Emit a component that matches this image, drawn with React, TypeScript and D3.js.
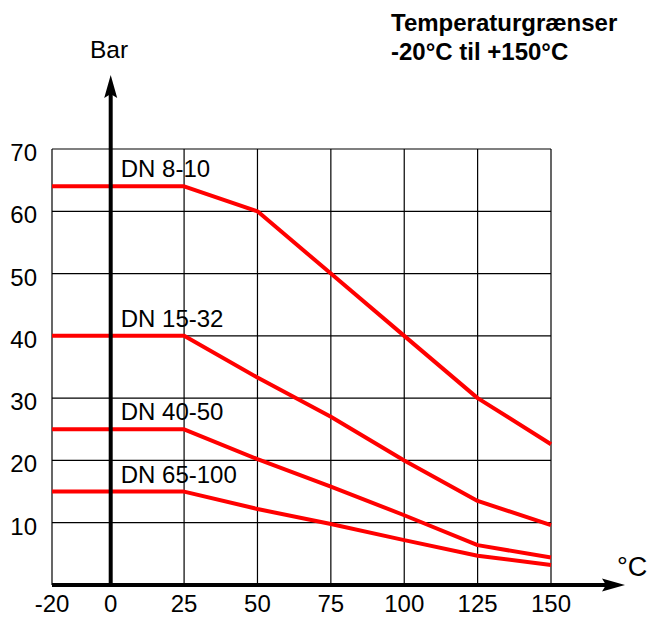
import * as d3 from 'd3';
import * as React from 'react';

const WIDTH = 653;
const HEIGHT = 617;

const temps = [-20, 25, 50, 75, 100, 125, 150];
const xTicks = [-20, 0, 25, 50, 75, 100, 125, 150];
const yTicks = [10, 20, 30, 40, 50, 60, 70];

const seriesNames = ['DN 8-10', 'DN 15-32', 'DN 40-50', 'DN 65-100'];
const dn8to10 = [64, 64, 60, 50, 40, 30, 22.6];
const dn15to32 = [40, 40, 33.3, 27, 20, 13.5, 9.6];
const dn40to50 = [25, 25, 20.2, 15.8, 11.2, 6.4, 4.4];
const dn65to100 = [15, 15, 12.2, 9.8, 7.2, 4.7, 3.2];
const seriesValues = [dn8to10, dn15to32, dn40to50, dn65to100];

const FONT = 'Liberation Sans, Arial, Helvetica, sans-serif';

const App = () => {
  const x = d3.scaleLinear().domain([-20, 150]).range([52, 551]);
  const y = d3.scaleLinear().domain([0, 70]).range([585, 149]);

  const line = d3
    .line<[number, number]>()
    .x(d => x(d[0]))
    .y(d => y(d[1]));

  const x0 = x(0);
  const yBase = y(0);
  const arrowX = 625;
  const arrowTop = 75;

  return (
    <svg
      width={WIDTH}
      height={HEIGHT}
      style={{ position: 'absolute', left: 0, top: 0, background: '#fff' }}
      fontFamily={FONT}
    >
      {/* grid */}
      {yTicks.map(t => (
        <line
          key={'h' + t}
          x1={x(-20)}
          x2={x(150)}
          y1={y(t)}
          y2={y(t)}
          stroke="#000"
          strokeWidth={1.2}
        />
      ))}
      {xTicks
        .filter(t => t !== 0)
        .map(t => (
          <line
            key={'v' + t}
            x1={x(t)}
            x2={x(t)}
            y1={y(70)}
            y2={yBase}
            stroke="#000"
            strokeWidth={1.2}
          />
        ))}

      {/* series */}
      {seriesValues.map((vals, i) => (
        <path
          key={seriesNames[i]}
          d={line(temps.map((t, j) => [t, vals[j]] as [number, number])) || ''}
          fill="none"
          stroke="#ff0000"
          strokeWidth={4}
          strokeLinejoin="round"
        />
      ))}

      {/* axes */}
      <line x1={x0} x2={x0} y1={yBase + 2} y2={arrowTop + 18} stroke="#000" strokeWidth={4} />
      <path
        d={`M${x0},${arrowTop} L${x0 + 6.5},${arrowTop + 23} L${x0},${arrowTop + 19} L${x0 - 6.5},${arrowTop + 23} Z`}
        fill="#000"
      />
      <line x1={x(-20)} x2={arrowX - 18} y1={yBase} y2={yBase} stroke="#000" strokeWidth={4} />
      <path
        d={`M${arrowX},${yBase} L${arrowX - 23},${yBase - 6.5} L${arrowX - 19},${yBase} L${arrowX - 23},${yBase + 6.5} Z`}
        fill="#000"
      />

      {/* series labels */}
      {seriesValues.map((vals, i) => (
        <text key={'l' + i} x={x0 + 10} y={y(vals[0]) - 9} fontSize={24} fill="#000">
          {seriesNames[i]}
        </text>
      ))}

      {/* tick labels */}
      {yTicks.map(t => (
        <text key={'yt' + t} x={37} y={y(t) + 12} fontSize={24} textAnchor="end" fill="#000">
          {t}
        </text>
      ))}
      {xTicks.map(t => (
        <text key={'xt' + t} x={x(t)} y={612} fontSize={24} textAnchor="middle" fill="#000">
          {t}
        </text>
      ))}

      {/* axis titles */}
      <text x={90} y={58} fontSize={24.5} fill="#000">
        Bar
      </text>
      <text x={617} y={576} fontSize={27} fill="#000">
        °C
      </text>

      <text x={391} y={31} fontSize={24} fontWeight="bold" fill="#000">
        Temperaturgrænser
      </text>
      <text x={391} y={60} fontSize={24} fontWeight="bold" fill="#000">
        -20°C til +150°C
      </text>
    </svg>
  );
};

export default App;
